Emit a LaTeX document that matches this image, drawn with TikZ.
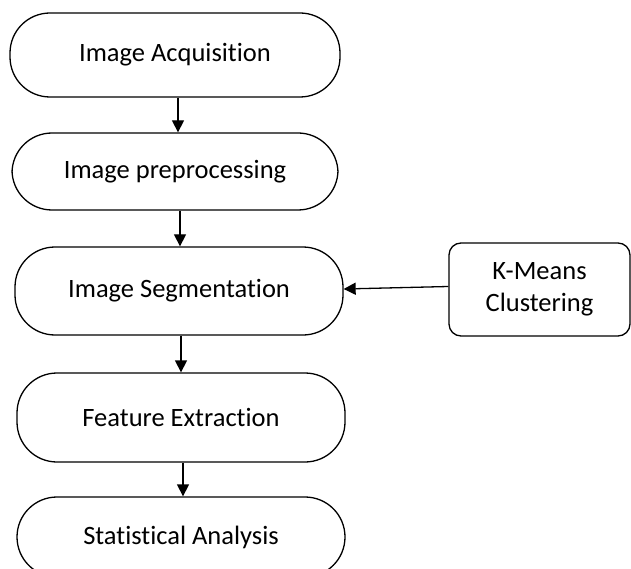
\documentclass[tikz,border=0pt]{standalone}
\usepackage{fontspec}
\setmainfont[Ligatures={NoCommon}]{Carlito}
\usetikzlibrary{arrows.meta}
\begin{document}
\begin{tikzpicture}[x=1pt,y=-1pt,
  term/.style={draw, line width=1.3pt, rounded corners=40pt, align=center, inner sep=0pt,
    font=\fontsize{26.5}{32}\selectfont},
  sidebox/.style={draw, line width=1.3pt, rounded corners=12pt, align=center, inner sep=0pt,
    font=\fontsize{26.5}{32}\selectfont},
  flow/.style={line width=1.3pt, -{Triangle[length=12pt,width=12pt]}}]
\clip (0,0) rectangle (631,569);
\useasboundingbox (0,0) rectangle (631,569);
\node[term, minimum width=330pt, minimum height=84pt] (A) at (175,55) {Image Acquisition};
\node[term, minimum width=326pt, minimum height=77pt] (B) at (175,171.5) {Image preprocessing};
\node[term, minimum width=328pt, minimum height=88pt] (C) at (179,291) {Image Segmentation};
\node[term, minimum width=328pt, minimum height=89pt] (D) at (181,417.5) {Feature Extraction};
\node[term, minimum width=328pt, minimum height=80pt] (E) at (181,537) {Statistical Analysis};
\node[sidebox, minimum width=181pt, minimum height=93pt] (K) at (539.5,289.5) {K-Means\\Clustering};
\draw[flow] ([xshift=3pt]A.south) -- ([xshift=3pt]B.north);
\draw[flow] ([xshift=5pt]B.south) -- ([xshift=1pt]C.north);
\draw[flow] ([xshift=2pt]C.south) -- ([xshift=0pt]D.north);
\draw[flow] ([xshift=2pt]D.south) -- ([xshift=2pt]E.north);
\draw[flow] ([yshift=3pt]K.west) -- ([yshift=2pt]C.east);
\end{tikzpicture}
\end{document}
